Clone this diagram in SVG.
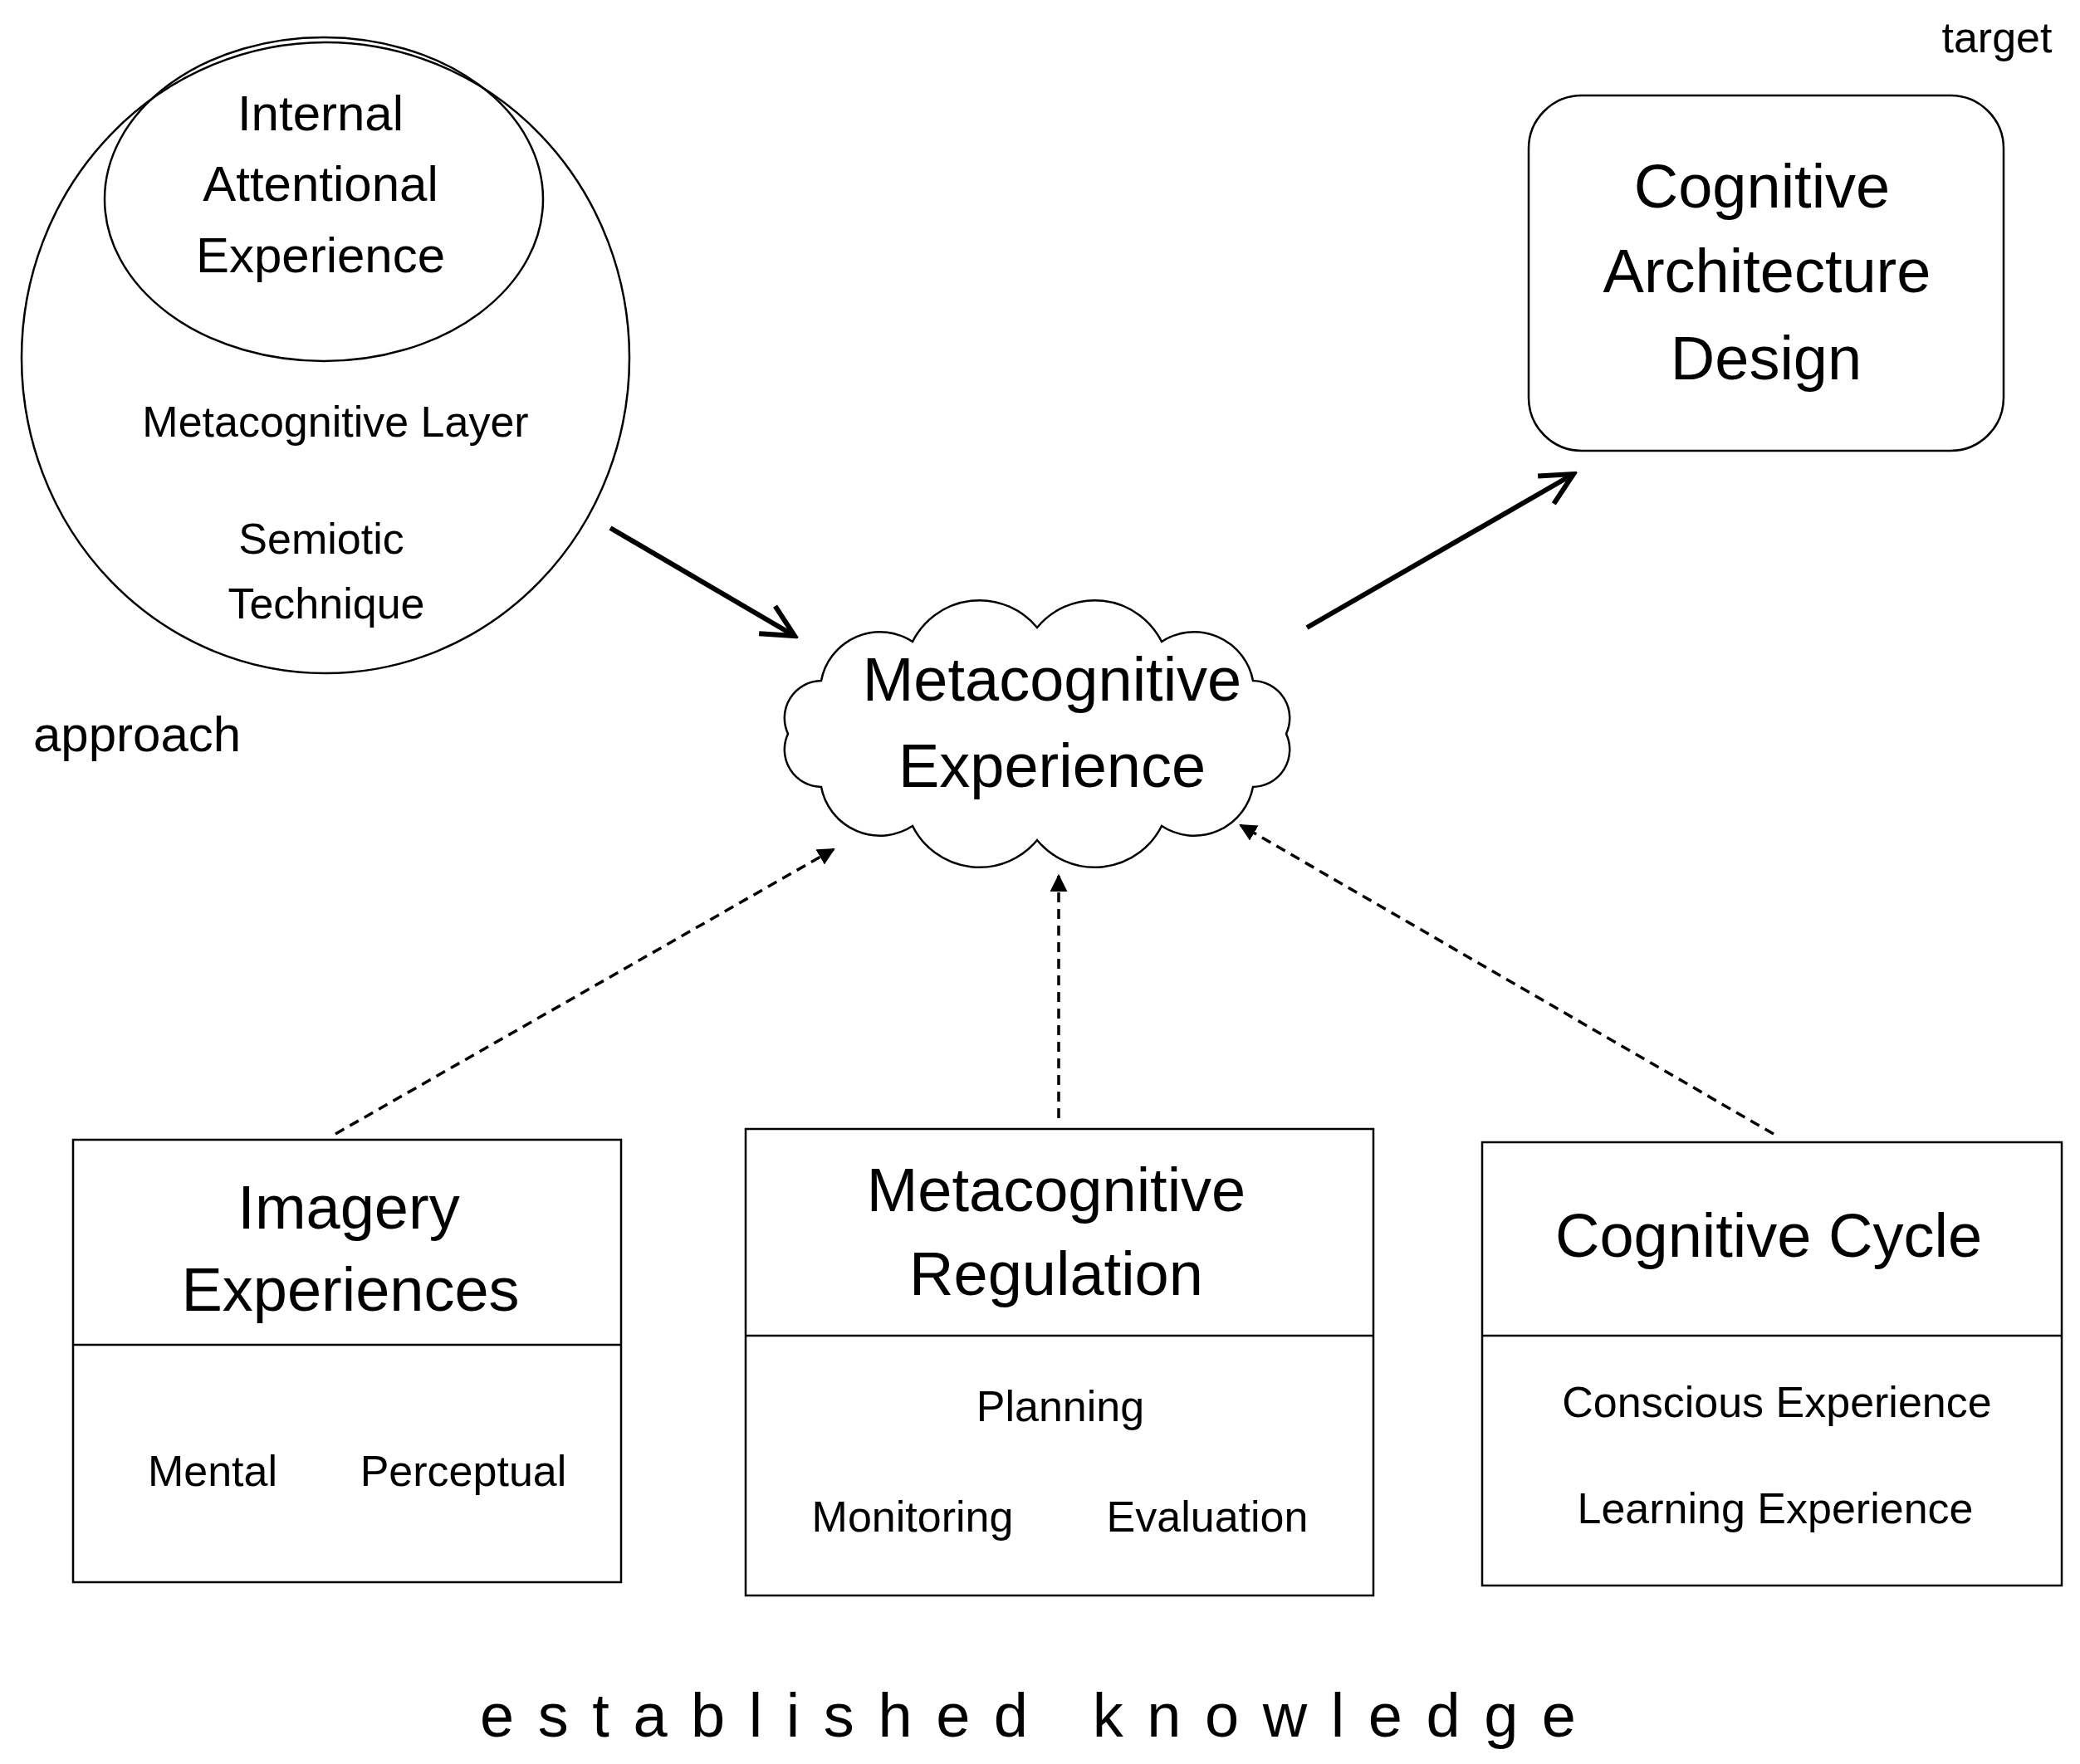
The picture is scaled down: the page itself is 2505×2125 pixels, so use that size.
<svg xmlns="http://www.w3.org/2000/svg" width="2505" height="2125" viewBox="0 0 2505 2125">
<style>
text{font-family:"Liberation Sans",Arial,sans-serif;fill:#000;text-anchor:middle;dominant-baseline:central}
.s{fill:none;stroke:#000;stroke-width:2.5}
.t1{font-size:60px}.t2{font-size:52px}.t3{font-size:74px}
.sol{stroke:#000;stroke-width:6;fill:none}
.dash{stroke:#000;stroke-width:3.5;stroke-dasharray:12 8;fill:none}
</style>
<defs>
<marker id="open" viewBox="0 0 20 20" refX="18" refY="10" markerWidth="8" markerHeight="8" markerUnits="strokeWidth" orient="auto"><path d="M2,2 L18,10 L2,18" fill="none" stroke="#000" stroke-width="2.5"/></marker>
<marker id="tri" viewBox="0 0 10 10" refX="9" refY="5" markerWidth="6" markerHeight="6" markerUnits="strokeWidth" orient="auto"><path d="M0,0 L10,5 L0,10 Z" fill="#000"/></marker>
</defs>
<rect width="2505" height="2125" fill="#fff"/>
<text x="2405" y="45" class="t2">target</text>
<g id="approach">
<ellipse cx="392" cy="431" rx="366" ry="380" class="s"/>
<ellipse cx="390" cy="240" rx="264" ry="195" class="s"/>
<text x="386" y="136" class="t1">Internal</text>
<text x="386" y="221" class="t1">Attentional</text>
<text x="386" y="307" class="t1">Experience</text>
<text x="404" y="508" class="t2">Metacognitive Layer</text>
<text x="387" y="649" class="t2">Semiotic</text>
<text x="393" y="727" class="t2">Technique</text>
<text x="40" y="884" class="t1" style="text-anchor:start">approach</text>
</g>
<g id="target">
<rect x="1841" y="115" width="572" height="428" rx="64" class="s"/>
<text x="2122" y="224" class="t3">Cognitive</text>
<text x="2128" y="326" class="t3">Architecture</text>
<text x="2127" y="431" class="t3">Design</text>
</g>
<g id="experience">
<path class="s" d="M1549,884 A45,45 0 0 1 1509,948 A72,72 0 0 1 1399,995 A90,90 0 0 1 1249,1012 A90,90 0 0 1 1099,995 A72,72 0 0 1 989,948 A45,45 0 0 1 949,884 A45,45 0 0 1 989,820 A72,72 0 0 1 1099,773 A90,90 0 0 1 1249,756 A90,90 0 0 1 1399,773 A72,72 0 0 1 1509,820 A45,45 0 0 1 1549,884 Z"/>
<text x="1267" y="818" class="t3">Metacognitive</text>
<text x="1267" y="922" class="t3">Experience</text>
</g>
<g id="imagery">
<rect x="88" y="1373" width="660" height="533" class="s"/>
<line x1="88" y1="1620" x2="748" y2="1620" class="s"/>
<text x="420" y="1454" class="t3">Imagery</text>
<text x="422" y="1553" class="t3">Experiences</text>
<text x="256" y="1772" class="t2">Mental</text>
<text x="558" y="1772" class="t2">Perceptual</text>
</g>
<g id="regulation">
<rect x="898" y="1360" width="756" height="562" class="s"/>
<line x1="898" y1="1609" x2="1654" y2="1609" class="s"/>
<text x="1272" y="1433" class="t3">Metacognitive</text>
<text x="1272" y="1534" class="t3">Regulation</text>
<text x="1277" y="1694" class="t2">Planning</text>
<text x="1099" y="1827" class="t2">Monitoring</text>
<text x="1454" y="1827" class="t2">Evaluation</text>
</g>
<g id="cycle">
<rect x="1785" y="1376" width="698" height="534" class="s"/>
<line x1="1785" y1="1609" x2="2483" y2="1609" class="s"/>
<text x="2130" y="1488" class="t3">Cognitive Cycle</text>
<text x="2140" y="1689" class="t2">Conscious Experience</text>
<text x="2138" y="1817" class="t2">Learning Experience</text>
</g>
<text x="1238" y="2066" class="t3" textLength="1320" lengthAdjust="spacing">established knowledge</text>
<g id="connectors">
<line x1="735" y1="636" x2="957" y2="766" class="sol" marker-end="url(#open)"/>
<line x1="1574" y1="756" x2="1895" y2="571" class="sol" marker-end="url(#open)"/>
<line x1="404" y1="1366" x2="1004" y2="1023" class="dash" marker-end="url(#tri)"/>
<line x1="1275" y1="1347" x2="1275" y2="1055" class="dash" marker-end="url(#tri)"/>
<line x1="2136" y1="1366" x2="1494" y2="994" class="dash" marker-end="url(#tri)"/>
</g>
</svg>
